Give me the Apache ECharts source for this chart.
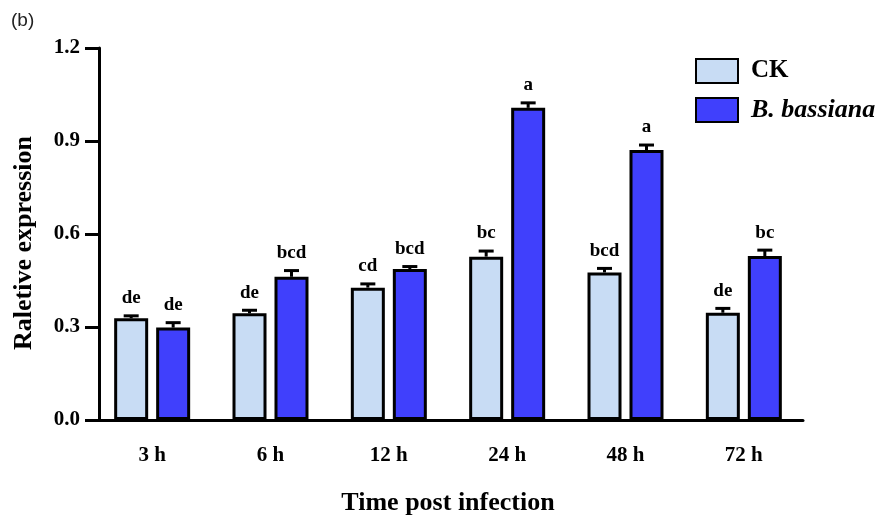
<!DOCTYPE html>
<html>
<head>
<meta charset="utf-8">
<script src="https://cdn.jsdelivr.net/npm/echarts@6/dist/echarts.min.js"></script>
<style>
  html, body { margin: 0; padding: 0; background: #fff; }
  #chart { width: 876px; height: 516px; }
</style>
</head>
<body>
<div id="chart"></div>
<script>
// ---- data ----
var categories = ['3 h', '6 h', '12 h', '24 h', '48 h', '72 h'];
var ckValues   = [0.328, 0.344, 0.427, 0.527, 0.476, 0.346];
var ckErr      = [0.008, 0.010, 0.012, 0.018, 0.013, 0.014];
var ckLetters  = ['de', 'de', 'cd', 'bc', 'bcd', 'de'];
var bbValues   = [0.298, 0.462, 0.487, 1.007, 0.871, 0.529];
var bbErr      = [0.016, 0.020, 0.008, 0.016, 0.016, 0.019];
var bbLetters  = ['de', 'bcd', 'bcd', 'a', 'a', 'bc'];
var seriesNames = ['CK', 'B. bassiana'];
var yTickValues = [0, 0.3, 0.6, 0.9, 1.2];

// ---- style ----
var SERIF = "'Liberation Serif', 'Times New Roman', serif";
var BAR_W = 34, BAR_GAP = 0.235;
var HALF_OFFSET = BAR_W * (1 + BAR_GAP) / 2;

function errSeries(values, errs, letters, dir) {
  return {
    type: 'custom',
    z: 5,
    silent: true,
    data: values.map(function (v, i) { return [i, v, errs[i]]; }),
    renderItem: function (params, api) {
      var ci = api.value(0), v = api.value(1), e = api.value(2);
      var base = api.coord([ci, v]);
      var top = api.coord([ci, v + e]);
      var x = base[0] + dir * HALF_OFFSET;
      return {
        type: 'group',
        children: [
          { type: 'line', shape: { x1: x, y1: base[1], x2: x, y2: top[1] },
            style: { stroke: '#000', lineWidth: 3 } },
          { type: 'line', shape: { x1: x - 7.5, y1: top[1], x2: x + 7.5, y2: top[1] },
            style: { stroke: '#000', lineWidth: 3 } },
          { type: 'text', style: { text: letters[params.dataIndex], x: x, y: top[1] - 8,
            textAlign: 'center', textVerticalAlign: 'bottom',
            font: 'bold 19px ' + SERIF, fill: '#000' } }
        ]
      };
    }
  };
}

var chart = echarts.init(document.getElementById('chart'));
chart.setOption({
  animation: false,
  backgroundColor: '#fff',
  title: {
    text: '(b)', left: 11, top: 11, padding: 0,
    textStyle: { fontFamily: "'Liberation Sans', Arial, sans-serif", fontWeight: 'normal', fontSize: 19, color: '#222' }
  },
  legend: {
    data: seriesNames,
    orient: 'vertical',
    left: 695, top: 58, padding: 0,
    itemWidth: 42, itemHeight: 24, itemGap: 13,
    icon: 'rect',
    formatter: function (n) { return n === 'CK' ? n : '{i|' + n + '}'; },
    textStyle: {
      fontFamily: SERIF, fontWeight: 'bold', fontSize: 25, color: '#000', padding: [0, 0, 0, 8],
      rich: { i: { fontFamily: SERIF, fontWeight: 'bold', fontStyle: 'italic', fontSize: 26, color: '#000' } }
    }
  },
  grid: { left: 93, right: 73, top: 48, bottom: 96, containLabel: false, outerBoundsMode: 'none' },
  xAxis: {
    type: 'category',
    data: categories,
    name: 'Time post infection',
    nameLocation: 'middle',
    nameGap: 70,
    nameTextStyle: { fontFamily: SERIF, fontWeight: 'bold', fontSize: 26, color: '#000' },
    axisLine: { lineStyle: { color: '#000', width: 3 } },
    axisTick: { alignWithLabel: true, length: 14, lineStyle: { color: '#000', width: 3 } },
    axisLabel: { margin: 25, fontFamily: SERIF, fontWeight: 'bold', fontSize: 21, color: '#000' }
  },
  yAxis: {
    type: 'value',
    min: yTickValues[0], max: yTickValues[yTickValues.length - 1], interval: 0.3,
    offset: -6,
    name: 'Raletive expression',
    nameLocation: 'middle',
    nameGap: 62,
    nameRotate: 90,
    nameTextStyle: { fontFamily: SERIF, fontWeight: 'bold', fontSize: 26, color: '#000', padding: [0, 18, 0, 0] },
    axisLine: { show: true, lineStyle: { color: '#000', width: 3 } },
    axisTick: { show: true, length: 14, lineStyle: { color: '#000', width: 3 } },
    splitLine: { show: false },
    axisLabel: { margin: 19, fontFamily: SERIF, fontWeight: 'bold', fontSize: 21, color: '#000',
      formatter: function (v) { return v.toFixed(1); } }
  },
  series: [
    { name: seriesNames[0], type: 'bar', data: ckValues, barWidth: BAR_W, barGap: (BAR_GAP * 100) + '%',
      itemStyle: { color: '#c8dcf4', borderColor: '#000', borderWidth: 3 } },
    { name: seriesNames[1], type: 'bar', data: bbValues, barWidth: BAR_W,
      itemStyle: { color: '#4040fc', borderColor: '#000', borderWidth: 3 } },
    errSeries(ckValues, ckErr, ckLetters, -1),
    errSeries(bbValues, bbErr, bbLetters, 1)
  ]
});
</script>
</body>
</html>
